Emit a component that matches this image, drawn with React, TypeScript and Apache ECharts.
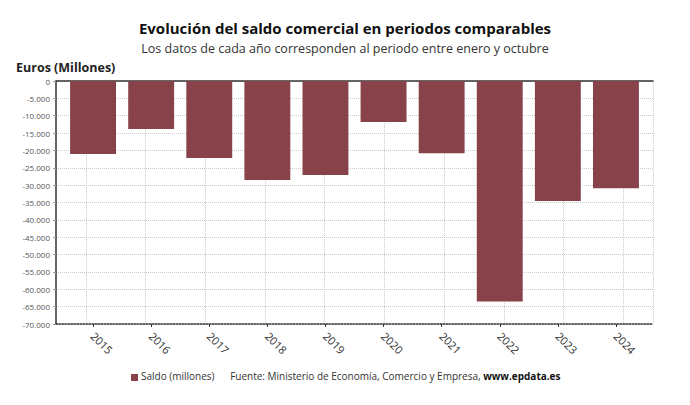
import React, { useEffect, useRef } from "react";
import * as echarts from "echarts";

const years = ["2015", "2016", "2017", "2018", "2019", "2020", "2021", "2022", "2023", "2024"];
const saldo = [-21000, -13800, -22200, -28500, -27100, -11800, -20800, -63500, -34600, -30900];
const seriesName = "Saldo (millones)";
const barColor = "#87424a";
const FONT = "'Open Sans', 'Noto Sans', sans-serif";
const gridSlots = Array.from({ length: 20 }, () => "");

export default function App() {
  const ref = useRef<HTMLDivElement>(null);
  useEffect(() => {
    if (!ref.current) return;
    const chart = echarts.init(ref.current, undefined, { renderer: "svg" });
    chart.setOption({
      animation: false,
      textStyle: { fontFamily: FONT },
      title: {
        text: "Evolución del saldo comercial en periodos comparables",
        subtext: "Los datos de cada año corresponden al periodo entre enero y octubre",
        left: "center",
        top: 15,
        itemGap: 7,
        textStyle: { fontFamily: FONT, fontSize: 15, fontWeight: "bold", color: "#111" },
        subtextStyle: { fontFamily: FONT, fontSize: 12.5, color: "#333" },
      },
      grid: [
        { left: 56, right: 37, top: 81, bottom: 81, containLabel: false },
        { left: 64, right: 45, top: 81, bottom: 81, containLabel: false },
      ],
      xAxis: [
        {
          type: "category",
          gridIndex: 0,
          data: gridSlots,
          position: "bottom",
          axisLine: { onZero: false, lineStyle: { color: "#333", type: "dotted", width: 1.5 } },
          axisTick: { show: false },
          axisLabel: { show: false },
          splitLine: {
            show: true,
            interval: (i: number) => i % 2 === 1,
            lineStyle: { color: "#ccc", type: "dotted" },
          },
        },
        {
          type: "category",
          gridIndex: 0,
          data: gridSlots,
          position: "top",
          axisLine: { onZero: false, lineStyle: { color: "#333", width: 1.5 } },
          axisTick: { show: false },
          axisLabel: { show: false },
          splitLine: { show: false },
        },
        {
          type: "category",
          gridIndex: 1,
          data: years,
          position: "bottom",
          axisLine: { show: false, onZero: false },
          axisTick: { show: true, alignWithLabel: true, length: 3, lineStyle: { color: "#333" } },
          axisLabel: { rotate: -45, fontSize: 11, color: "#333", fontFamily: FONT, margin: 10 },
          splitLine: { show: false },
        },
      ],
      yAxis: [
        {
          type: "value",
          gridIndex: 0,
          min: -70000,
          max: 0,
          interval: 5000,
          name: "Euros (Millones)",
          nameLocation: "end",
          nameGap: 7,
          nameTextStyle: { fontFamily: FONT, fontSize: 12.5, fontWeight: "bold", color: "#222", align: "left", padding: [0, 0, 0, -40] },
          axisLine: { show: true, lineStyle: { color: "#333", width: 1.5 } },
          axisTick: { show: true, length: 3, lineStyle: { color: "#999" } },
          axisLabel: {
            fontSize: 8,
            color: "#555",
            fontFamily: FONT,
            margin: 6,
            formatter: (v: number) => {
              const s = Math.abs(v).toString().replace(/\B(?=(\d{3})+(?!\d))/g, ".");
              return v < 0 ? "-" + s : s;
            },
          },
          splitLine: { show: true, lineStyle: { color: "#ccc", type: "dotted" } },
        },
        {
          type: "value",
          gridIndex: 1,
          min: -70000,
          max: 0,
          interval: 5000,
          show: false,
          splitLine: { show: false },
        },
      ],
      legend: { show: false },
      series: [
        {
          name: seriesName,
          type: "bar",
          xAxisIndex: 2,
          yAxisIndex: 1,
          data: saldo,
          barCategoryGap: "21%",
          itemStyle: { color: barColor },
        },
      ],
      graphic: [
        { type: "rect", left: 131, top: 374, shape: { width: 7, height: 7 }, style: { fill: barColor } },
        {
          type: "text",
          left: 141,
          top: 371,
          style: {
            text: "{n|" + seriesName + "}{s|      Fuente: Ministerio de Economía, Comercio y Empresa, }{b|www.epdata.es}",
            rich: {
              n: { fontFamily: FONT, fontSize: 10, fill: "#333" },
              s: { fontFamily: FONT, fontSize: 10, fill: "#333" },
              b: { fontFamily: FONT, fontSize: 10, fill: "#111", fontWeight: "bold" },
            },
          },
        },
      ],
    });
    return () => chart.dispose();
  }, []);
  return <div ref={ref} style={{ width: 690, height: 405, position: "absolute", left: 0, top: 0 }} />;
}
